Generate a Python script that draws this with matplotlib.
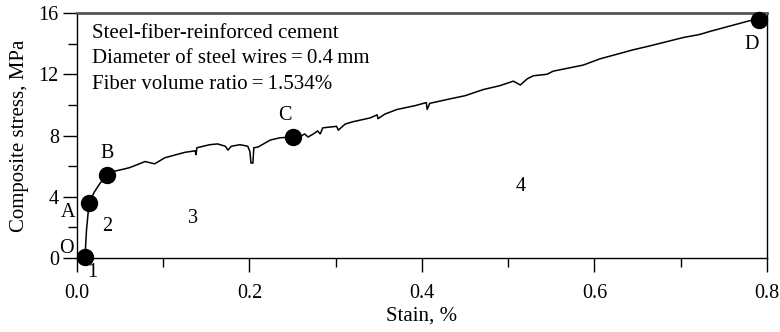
import matplotlib.pyplot as plt
from matplotlib.ticker import MultipleLocator

plt.rcParams['font.family'] = ['Liberation Serif', 'DejaVu Serif']

# stress-strain curve
strain = [0.0093, 0.011, 0.014, 0.020, 0.027, 0.035, 0.038, 0.050, 0.061, 0.079,
          0.090, 0.102, 0.125, 0.137, 0.138, 0.139, 0.154, 0.163, 0.172, 0.175,
          0.179, 0.189, 0.198, 0.2005, 0.2017, 0.204, 0.205, 0.210, 0.224, 0.235,
          0.250, 0.259, 0.264, 0.268, 0.274, 0.279, 0.282, 0.285, 0.301, 0.303,
          0.311, 0.320, 0.340, 0.348, 0.349, 0.357, 0.371, 0.392, 0.405, 0.406,
          0.409, 0.429, 0.450, 0.471, 0.490, 0.506, 0.514, 0.522, 0.529, 0.545,
          0.552, 0.587, 0.606, 0.645, 0.664, 0.703, 0.722, 0.734, 0.780, 0.791]
stress = [0.05, 1.8, 3.6, 4.3, 4.9, 5.4, 5.6, 5.75, 5.9, 6.3,
          6.15, 6.55, 6.9, 7.0, 6.75, 7.2, 7.4, 7.45, 7.3, 7.05,
          7.3, 7.4, 7.3, 6.95, 6.2, 6.2, 7.2, 7.25, 7.7, 7.85,
          7.9, 7.95, 8.1, 7.9, 8.1, 8.3, 8.1, 8.5, 8.6, 8.35,
          8.75, 8.9, 9.15, 9.35, 9.1, 9.4, 9.7, 9.95, 10.15, 9.7,
          10.1, 10.35, 10.6, 11.0, 11.25, 11.55, 11.3, 11.7, 11.9, 12.0,
          12.2, 12.6, 13.0, 13.6, 13.85, 14.4, 14.6, 14.8, 15.5, 15.55]

# key points O, A, B, C, D
pt_names = ['O', 'A', 'B', 'C', 'D']
pt_strain = [0.0093, 0.014, 0.035, 0.250, 0.791]
pt_stress = [0.05, 3.6, 5.4, 7.9, 15.55]
name_x = [-0.0128, -0.0104, 0.0348, 0.241, 0.7826]
name_y = [0.6, 3.0, 6.8, 9.28, 13.92]

# stage numbers
stage_labels = ['1', '2', '3', '4']
stage_x = [0.0174, 0.0348, 0.1345, 0.514]
stage_y = [-0.92, 2.03, 2.6, 4.64]

fig = plt.figure(figsize=(7.8, 3.32), dpi=100)
ax = fig.add_axes([0.0987, 0.2229, 0.8846, 0.7379])

ax.plot(strain, stress, color='black', lw=1.1)
ax.plot(pt_strain, pt_stress, 'o', color='black', ms=11.5, clip_on=False, zorder=5)

for n, x, y in zip(pt_names, name_x, name_y):
    ax.text(x, y, n, fontsize=14.5, ha='center', va='center', clip_on=False)
for s, x, y in zip(stage_labels, stage_x, stage_y):
    ax.text(x, y, s, fontsize=14.5, ha='center', va='center', clip_on=False)

ax.text(0.0175, 13.0,
        'Steel-fiber-reinforced cement\n'
        'Diameter of steel wires\u2009=\u20090.4\u2009mm\n'
        'Fiber volume ratio\u2009=\u20091.534%',
        fontsize=15, va='center', ha='left', linespacing=1.45)

ax.set_xlim(0, 0.8)
ax.set_ylim(0, 16)
ax.xaxis.set_major_locator(MultipleLocator(0.2))
ax.xaxis.set_minor_locator(MultipleLocator(0.1))
ax.yaxis.set_major_locator(MultipleLocator(4))
ax.yaxis.set_minor_locator(MultipleLocator(2))
ax.xaxis.set_major_formatter(lambda v, p: f'{v:.1f}')
ax.yaxis.set_major_formatter(lambda v, p: f'{v:.0f}')
ax.tick_params(which='major', direction='out', length=10, width=1.0,
               labelsize=14.5, top=False, right=False)
ax.tick_params(which='minor', direction='out', length=6.5, width=1.0,
               top=False, right=False)
ax.tick_params(axis='x', which='major', pad=9)
ax.tick_params(axis='y', which='major', pad=3)

for side in ['left', 'bottom', 'right']:
    ax.spines[side].set_linewidth(1.0)
ax.spines['top'].set_color('#555555')
ax.spines['top'].set_linewidth(2.0)

ax.set_xlabel('Stain, %', fontsize=15, labelpad=2)
ax.set_ylabel('Composite stress, MPa', fontsize=15, labelpad=7)

plt.savefig('out.png', dpi=100)
